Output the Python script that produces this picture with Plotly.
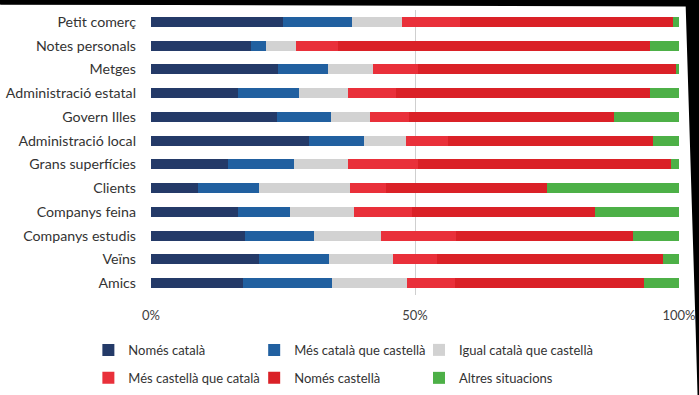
import plotly.graph_objects as go

categories = ["Petit comerç", "Notes personals", "Metges", "Administració estatal",
              "Govern Illes", "Administració local", "Grans superfícies", "Clients",
              "Companys feina", "Companys estudis", "Veïns", "Amics"]

nomes_catala = [25.0, 19.0, 24.0, 16.4, 23.8, 30.0, 14.6, 8.9, 16.4, 17.8, 20.5, 17.5]
mes_catala = [13.1, 2.8, 9.6, 11.7, 10.3, 10.4, 12.4, 11.5, 10.0, 13.1, 13.3, 16.7]
igual = [9.5, 5.7, 8.5, 9.3, 7.4, 7.8, 10.4, 17.3, 12.1, 12.6, 12.1, 14.2]
mes_castella = [11.0, 8.0, 8.4, 9.0, 7.4, 8.1, 13.2, 6.9, 11.0, 14.2, 8.2, 9.1]
nomes_castella = [40.3, 59.0, 49.0, 48.2, 38.7, 38.7, 47.8, 30.4, 34.6, 33.5, 42.8, 35.9]
altres = [1.1, 5.5, 0.5, 5.4, 12.4, 5.0, 1.6, 25.0, 15.9, 8.8, 3.1, 6.6]

series_names = ["Només català", "Més català que castellà", "Igual català que castellà",
                "Més castellà que català", "Només castellà", "Altres situacions"]
series_values = [nomes_catala, mes_catala, igual, mes_castella, nomes_castella, altres]
colors = ["#243A68", "#2160A0", "#D2D2D2", "#E9303A", "#DA2127", "#4DB047"]

tick_vals = [0, 50, 100]
tick_text = ["0%", "50%", "100%"]

W, H = 699, 395
L, R, T, B = 150.7, 19.7, 9.6, 100
pw, ph = W - L - R, H - T - B

def px2paper(x, y):
    return (x - L) / pw, (H - B - y) / ph

FONT = "Lato"
legend_ids = ["legend", "legend2", "legend3", "legend4", "legend5", "legend6"]

fig = go.Figure()
for name, vals, col, lg in zip(series_names, series_values, colors, legend_ids):
    fig.add_trace(go.Bar(
        y=categories, x=vals, name=name, orientation="h",
        marker=dict(color=col, line=dict(width=0)),
        legend=lg,
        hoverinfo="x+y+name",
    ))

# legend slots: 3 columns x 2 rows (pixel positions of legend boxes)
col_px = [88, 254, 419]
row_px = [335, 363]
legend_layout = {}
for i, lg in enumerate(legend_ids):
    x, y = px2paper(col_px[i % 3], row_px[i // 3])
    legend_layout[lg] = dict(x=x, y=y, xanchor="left", yanchor="top",
                             orientation="v", bgcolor="rgba(0,0,0,0)",
                             font=dict(family=FONT, size=13, color="#333333"))

# black border (photo edge) at top and right
pts = [(-5, -5), (705, -5), (705, 400), (698, 400), (696, 330), (686, 6), (-5, 4)]
path = "M " + " L ".join(f"{px2paper(x, y)[0]},{px2paper(x, y)[1]}" for x, y in pts) + " Z"
tx0, ty0 = px2paper(0, 0)
tx1, ty1 = px2paper(699, 4)

fig.update_layout(
    width=W, height=H,
    margin=dict(l=L, r=R, t=T, b=B, pad=0, autoexpand=False),
    barmode="stack", bargap=0.58,
    plot_bgcolor="white", paper_bgcolor="white",
    font=dict(family=FONT, size=13, color="#333333"),
    xaxis=dict(range=[0, 100], tickvals=tick_vals, ticktext=tick_text,
               showgrid=True, gridcolor="#CFCFCF", gridwidth=1,
               zeroline=False, showline=False, ticks="", automargin=False,
               ticklabelstandoff=11,
               tickfont=dict(family=FONT, size=13, color="#404040")),
    yaxis=dict(autorange="reversed", showgrid=False, zeroline=False,
               showline=False, ticks="", automargin=False, ticklabelstandoff=14,
               tickfont=dict(family=FONT, size=14.2, color="#333333")),
    shapes=[dict(type="path", xref="paper", yref="paper", path=path,
                 fillcolor="black", line=dict(width=0), layer="above"),
            dict(type="rect", xref="paper", yref="paper",
                 x0=tx0, x1=tx1, y0=ty1, y1=ty0,
                 fillcolor="black", line=dict(width=0), layer="above")],
    showlegend=True,
    **legend_layout,
)

fig.write_html("out.html",
               config={"displayModeBar": False},
               post_script="document.body.style.margin='0px';document.body.style.padding='0px';")
